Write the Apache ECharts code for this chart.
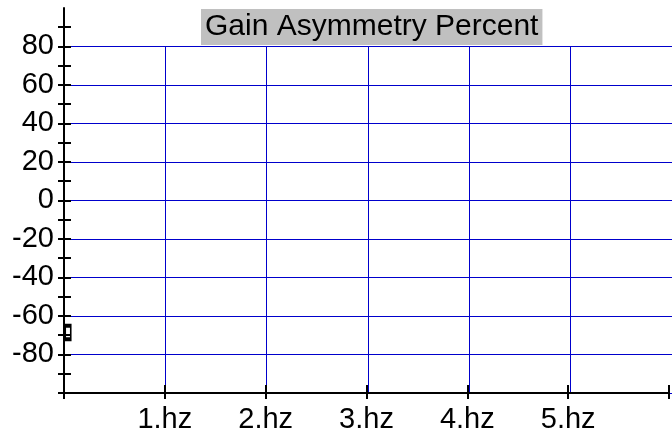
<!DOCTYPE html>
<html>
<head>
<meta charset="utf-8">
<script src="https://cdn.jsdelivr.net/npm/echarts@6/dist/echarts.min.js"></script>
<style>html,body{margin:0;padding:0;background:#fff}#chart{width:672px;height:434px}</style>
</head>
<body>
<div id="chart"></div>
<script>
// data
var freqTicks = [1, 2, 3, 4, 5];
var gainLevels = [80, 60, 40, 20, 0, -20, -40, -60, -80];
var gainPoints = [[0, -68.6]];

var dom = document.getElementById("chart");
var myChart = echarts.init(dom);
var font = 'Liberation Sans, Arial, sans-serif';
var gridBlue = '#0000cc';

var axisLine = { show: true, onZero: false, lineStyle: { color: '#000', width: 2 } };
var blueSplit = { show: true, lineStyle: { color: gridBlue, width: 1, type: 'solid' } };

option = {
    animation: false,
    backgroundColor: '#fff',
    title: {
        text: 'Gain Asymmetry Percent',
        left: 201, top: 9,
        padding: [0, 4],
        backgroundColor: '#c0c0c0',
        textStyle: { fontFamily: font, fontSize: 30, fontWeight: 'normal', color: '#000', lineHeight: 36 }
    },
    grid: [
        { left: 64, right: -5, top: 27, bottom: 41 },
        { left: 64, right: -5, top: 8, height: 19 },
        { left: 64, right: -5, top: 46.26, bottom: 41 }
    ],
    xAxis: [
        {
            type: 'value', gridIndex: 0, position: 'bottom', min: 0, max: 6, interval: 1, z: 10,
            axisLine: axisLine,
            axisTick: { show: true, inside: false, length: 6, lineStyle: { color: '#000', width: 2 } },
            axisLabel: {
                fontFamily: font, fontSize: 29, color: '#000', margin: 12,
                formatter: function (v) { return freqTicks.indexOf(v) >= 0 ? v + '.hz' : ''; }
            },
            splitLine: { show: false }
        },
        {
            type: 'value', gridIndex: 0, position: 'bottom', min: 0, max: 6, interval: 1, z: 10,
            axisLine: { show: false, onZero: false },
            axisTick: { show: true, inside: true, length: 8, lineStyle: { color: '#000', width: 2 } },
            axisLabel: { show: false },
            splitLine: { show: false }
        },
        { type: 'value', gridIndex: 1, show: false, min: 0, max: 6 },
        {
            type: 'value', gridIndex: 2, position: 'bottom', min: 0, max: 6, interval: 1, z: 1,
            axisLine: { show: false, onZero: false }, axisTick: { show: false }, axisLabel: { show: false },
            splitLine: blueSplit
        }
    ],
    yAxis: [
        {
            type: 'value', gridIndex: 0, position: 'left', min: -100, max: 90, interval: 10, z: 10,
            axisLine: axisLine,
            axisTick: { show: true, inside: false, length: 6, lineStyle: { color: '#000', width: 2 } },
            axisLabel: {
                fontFamily: font, fontSize: 29, color: '#000', margin: 10, padding: [3, 0, 0, 0],
                formatter: function (v) { return gainLevels.indexOf(v) >= 0 ? String(v) : ''; }
            },
            splitLine: { show: false }
        },
        {
            type: 'value', gridIndex: 0, position: 'left', min: -100, max: 90, interval: 10, z: 10,
            axisLine: { show: false, onZero: false },
            axisTick: { show: true, inside: true, length: 7, lineStyle: { color: '#000', width: 2 } },
            axisLabel: { show: false },
            splitLine: { show: false }
        },
        {
            type: 'value', gridIndex: 1, position: 'left', min: 90, max: 100, z: 10,
            axisLine: axisLine,
            axisTick: { show: false }, axisLabel: { show: false }, splitLine: { show: false }
        },
        {
            type: 'value', gridIndex: 2, position: 'left', min: -100, max: 80, interval: 20, z: 1,
            axisLine: { show: false, onZero: false }, axisTick: { show: false }, axisLabel: { show: false },
            splitLine: blueSplit
        }
    ],
    series: [
        {
            name: 'Gain Asymmetry',
            type: 'scatter',
            xAxisIndex: 0, yAxisIndex: 0,
            clip: false,
            z: 5,
            symbol: 'rect',
            symbolSize: [5.5, 13.5],
            symbolOffset: [4, 0],
            itemStyle: { color: '#fff', borderColor: '#000', borderWidth: 2.5, opacity: 1 },
            data: gainPoints
        }
    ]
};
if (option && typeof option === "object") {
    myChart.setOption(option, true);
}
</script>
</body>
</html>
